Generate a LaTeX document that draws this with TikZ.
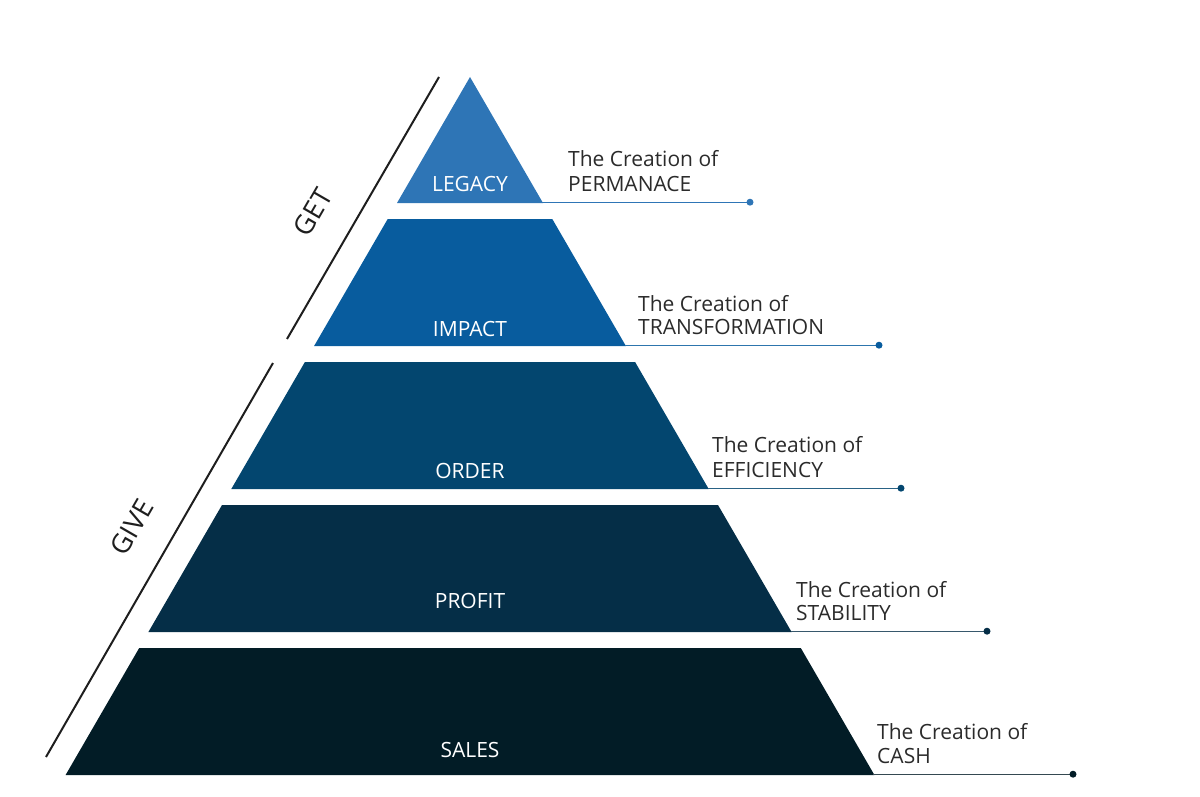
\documentclass[tikz,border=0pt]{standalone}
\usepackage{fontspec}
\setmainfont{Open Sans}
\definecolor{cLegacy}{HTML}{2E75B6}
\definecolor{cImpact}{HTML}{085C9E}
\definecolor{cOrder}{HTML}{03466F}
\definecolor{cProfit}{HTML}{052E47}
\definecolor{cSales}{HTML}{021C26}
\definecolor{textgray}{HTML}{2B2B2B}
\definecolor{axisgray}{HTML}{1E1E1E}
\begin{document}
\begin{tikzpicture}[x=1pt,y=-1pt,
  lbl/.style={text=white, font=\fontsize{21}{24}\selectfont, anchor=base, inner sep=0pt},
  side/.style={text=textgray, font=\fontsize{21}{24}\selectfont, anchor=base west, inner sep=0pt},
  lead/.style={line width=1.4pt},
  enddot/.style={circle, inner sep=0pt, minimum size=7pt},
  axisline/.style={line width=2pt, draw=axisgray},
  axislbl/.style={text=axisgray, font=\fontsize{27}{30}\selectfont, rotate=60, inner sep=0pt}]
\useasboundingbox (0,0) rectangle (1200,797);

% pyramid layers
\fill[cLegacy] (470,77) -- (543,203) -- (397,203) -- cycle;
\fill[cImpact] (387.7,219) -- (552.3,219) -- (625.9,346) -- (314.1,346) -- cycle;
\fill[cOrder]  (304.9,362) -- (635.1,362) -- (708.7,489) -- (231.3,489) -- cycle;
\fill[cProfit] (222,505) -- (718,505) -- (791.6,632) -- (148.4,632) -- cycle;
\fill[cSales]  (139.2,648) -- (800.8,648) -- (874.4,775) -- (65.6,775) -- cycle;

% layer labels
\node[lbl] (legacy) at (470,192) {LEGACY};
\node[lbl] (impact) at (470,336) {IMPACT};
\node[lbl] (order)  at (470,478) {ORDER};
\node[lbl] (profit) at (470,608) {PROFIT};
\node[lbl] (sales)  at (470,757) {SALES};

% lead lines
\coordinate (r1) at (542,202.2);  \coordinate (d1) at (750,202.2);
\coordinate (r2) at (625,345.2);  \coordinate (d2) at (879,345.2);
\coordinate (r3) at (708,488.2);  \coordinate (d3) at (901,488.2);
\coordinate (r4) at (791,631.2);  \coordinate (d4) at (987,631.2);
\coordinate (r5) at (873,774.2);  \coordinate (d5) at (1073,774.2);
\draw[lead, cLegacy] (r1) -- (d1);
\draw[lead, cImpact!85!white] (r2) -- (d2);
\draw[lead, cOrder!85!white] (r3) -- (d3);
\draw[lead, cProfit!80!white] (r4) -- (d4);
\draw[lead, cSales!80!white] (r5) -- (d5);
\node[enddot, fill=cLegacy] (e1) at (d1) {};
\node[enddot, fill=cImpact] (e2) at (d2) {};
\node[enddot, fill=cOrder] (e3) at (d3) {};
\node[enddot, fill=cProfit] (e4) at (d4) {};
\node[enddot, fill=cSales] (e5) at (d5) {};

% side texts
\node[side] (t1a) at (568,167) {The Creation of};
\node[side] (t1b) at (568,192) {PERMANACE};
\node[side] (t2a) at (638,311) {The Creation of};
\node[side] (t2b) at (638,334) {TRANSFORMATION};
\node[side] (t3a) at (712,452) {The Creation of};
\node[side] (t3b) at (712,477) {EFFICIENCY};
\node[side] (t4a) at (796,597) {The Creation of};
\node[side] (t4b) at (796,620) {STABILITY};
\node[side] (t5a) at (877,739) {The Creation of};
\node[side] (t5b) at (877,763) {CASH};

% GET / GIVE axes
\coordinate (g1) at (439,77);  \coordinate (g2) at (287,339);
\coordinate (v1) at (273,363); \coordinate (v2) at (46,757);
\draw[axisline] (g1) -- (g2);
\draw[axisline] (v1) -- (v2);
\node[axislbl] (get)  at (313,212) {GET};
\node[axislbl] (give) at (132,527) {GIVE};
\end{tikzpicture}
\end{document}
